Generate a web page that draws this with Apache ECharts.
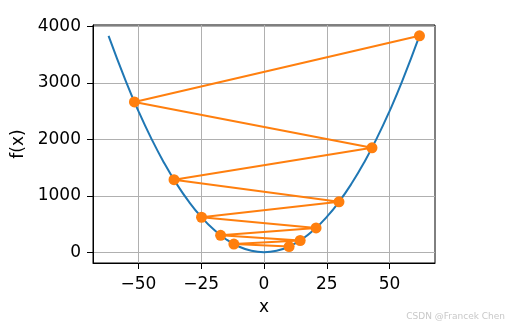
<!DOCTYPE html>
<html><head><meta charset="utf-8">
<script src="https://cdn.jsdelivr.net/npm/echarts@6/dist/echarts.min.js"></script>
<style>html,body{margin:0;padding:0;background:#fff}#c{width:507px;height:327px}</style>
</head><body><div id="c"></div>
<script>
// f(x) curve
const curveX = [-61.9,-55,-50,-45,-40,-35,-30,-25,-20,-15,-10,-5,0,5,10,15,20,25,30,35,40,45,50,55,61.9];
const curveY = [3832,3025,2500,2025,1600,1225,900,625,400,225,100,25,0,25,100,225,400,625,900,1225,1600,2025,2500,3025,3832];
// gradient descent trajectory
const pathX = [10,-12,14.4,-17.28,20.74,-24.88,29.86,-35.83,43.0,-51.6,61.92];
const pathY = [100,144,207,299,430,619,892,1284,1849,2662,3834];
const xTicks = [-50,-25,0,25,50];
const yTicks = [0,1000,2000,3000,4000];

const font = 'DejaVu Sans';
const fmt = v => (v < 0 ? '\u2212' + Math.abs(v) : String(v));
const chart = echarts.init(document.getElementById('c'), null, {renderer:'canvas'});
chart.setOption({
  animation:false,
  backgroundColor:'#fff',
  grid:{left:93,right:72,top:25,bottom:64,show:true,borderColor:'#000',borderWidth:1,backgroundColor:'transparent'},
  xAxis:{type:'value',min:-68.1,max:68.1,
    name:'x',nameLocation:'middle',nameGap:36,nameTextStyle:{fontFamily:font,fontSize:17,color:'#000'},
    axisLine:{show:true,onZero:false,lineStyle:{color:'#000',width:1}},
    axisTick:{show:true,length:6,inside:false,customValues:xTicks,lineStyle:{color:'#000',width:1}},
    axisLabel:{customValues:xTicks,formatter:fmt,fontFamily:font,fontSize:17,color:'#000',margin:13},
    splitLine:{show:true,lineStyle:{color:'#b0b0b0',width:1}}},
  yAxis:{type:'value',min:-191.7,max:4025.9,
    name:'f(x)',nameLocation:'middle',nameGap:62,nameRotate:90,nameTextStyle:{fontFamily:font,fontSize:17,color:'#000'},
    axisLine:{show:true,onZero:false,lineStyle:{color:'#000',width:1}},
    axisTick:{show:true,length:6,inside:false,customValues:yTicks,lineStyle:{color:'#000',width:1}},
    axisLabel:{customValues:yTicks,formatter:fmt,fontFamily:font,fontSize:17,color:'#000',margin:12},
    splitLine:{show:true,lineStyle:{color:'#b0b0b0',width:1}}},
  series:[
    {type:'line',data:curveX.map((x,i)=>[x,curveY[i]]),smooth:true,showSymbol:false,symbol:'none',
     lineStyle:{color:'#1f77b4',width:2},z:2},
    {type:'line',data:pathX.map((x,i)=>[x,pathY[i]]),symbol:'circle',symbolSize:11,showSymbol:true,
     itemStyle:{color:'#ff7f0e'},lineStyle:{color:'#ff7f0e',width:2},z:3}
  ],
  graphic:[{type:'text',right:2,bottom:6,style:{text:'CSDN @Francek Chen',fill:'#c8c8c8',font:'9px "DejaVu Sans"'}}]
});
</script></body></html>
